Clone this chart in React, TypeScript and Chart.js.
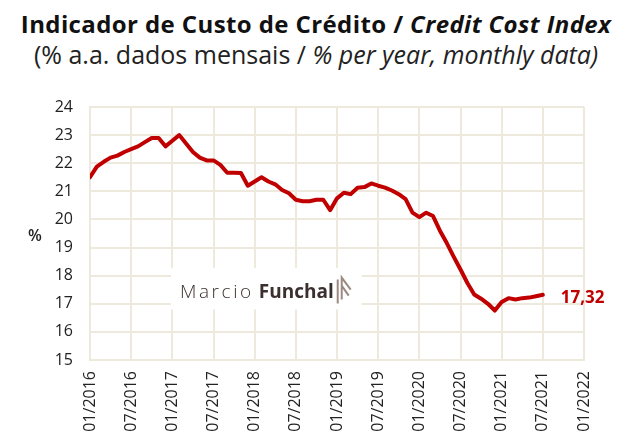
import React, { useEffect, useRef } from "react";
import { Chart, registerables } from "chart.js";

Chart.register(...registerables);

const xTickLabels = [
  "01/2016", "07/2016", "01/2017", "07/2017", "01/2018", "07/2018", "01/2019",
  "07/2019", "01/2020", "07/2020", "01/2021", "07/2021", "01/2022",
];
const yTicks = [15, 16, 17, 18, 19, 20, 21, 22, 23, 24];
// monthly values, 01/2016 .. 07/2021
const creditCost = [
  21.5, 21.88, 22.05, 22.2, 22.27, 22.4, 22.5, 22.6, 22.75, 22.9, 22.9, 22.6,
  22.8, 23.0, 22.7, 22.4, 22.2, 22.1, 22.1, 21.94, 21.66, 21.66, 21.65, 21.2,
  21.35, 21.5, 21.35, 21.25, 21.05, 20.93, 20.7, 20.65, 20.65, 20.7, 20.7, 20.33,
  20.75, 20.95, 20.9, 21.13, 21.15, 21.28, 21.2, 21.13, 21.03, 20.9, 20.72, 20.24,
  20.08, 20.24, 20.12, 19.6, 19.16, 18.68, 18.22, 17.74, 17.33, 17.18, 17.0, 16.76,
  17.06, 17.2, 17.15, 17.2, 17.22, 17.27, 17.32,
];
const lastLabel = "17,32";

const RED = "#c00000";
const GRID = "#ede9dd";
const FONT = "'Open Sans', sans-serif";

const overlayPlugin = {
  id: "overlay",
  beforeDatasetsDraw(chart: any) {
    const { ctx, scales } = chart;
    const x = scales.x;
    const y = scales.y;
    ctx.save();
    // watermark box
    const bx0 = x.getPixelForValue(11.8);
    const bx1 = x.getPixelForValue(39.6);
    const by0 = y.getPixelForValue(18.28);
    const by1 = y.getPixelForValue(16.8);
    ctx.fillStyle = "#ffffff";
    ctx.fillRect(bx0, by0, bx1 - bx0, by1 - by0);
    const base = y.getPixelForValue(17.22);
    ctx.fillStyle = "#3b302d";
    ctx.textBaseline = "alphabetic";
    ctx.textAlign = "left";
    ctx.font = `300 19px ${FONT}`;
    let tx = x.getPixelForValue(13.1);
    const letters = "Marcio".split("");
    for (const ch of letters) {
      ctx.fillText(ch, tx, base);
      tx += ctx.measureText(ch).width + 2.6;
    }
    ctx.font = `700 19px ${FONT}`;
    const fx = x.getPixelForValue(24.6);
    ctx.fillText("Funchal", fx, base);
    const fw = ctx.measureText("Funchal").width;
    // logo
    const lx = fx + fw + 4;
    ctx.strokeStyle = "#9c8b82";
    ctx.lineWidth = 2;
    ctx.beginPath();
    ctx.moveTo(lx, base - 18);
    ctx.lineTo(lx, base + 6);
    ctx.moveTo(lx + 4, base + 2);
    ctx.lineTo(lx + 4, base - 20);
    ctx.lineTo(lx + 13, base - 8);
    ctx.moveTo(lx + 4, base - 12);
    ctx.lineTo(lx + 11, base - 2);
    ctx.stroke();
    ctx.restore();
  },
  afterDatasetsDraw(chart: any) {
    const { ctx, scales, chartArea } = chart;
    const x = scales.x;
    const y = scales.y;
    ctx.save();
    const n = creditCost.length - 1;
    const px = x.getPixelForValue(n);
    const py = y.getPixelForValue(creditCost[n]);
    ctx.fillStyle = RED;
    ctx.font = `700 17px ${FONT}`;
    ctx.textAlign = "left";
    ctx.textBaseline = "middle";
    ctx.fillText(lastLabel, px + 18, py + 3);
    // "%" axis label
    ctx.fillStyle = "#222222";
    ctx.font = `600 16px ${FONT}`;
    ctx.textAlign = "center";
    ctx.fillText("%", 35, (chartArea.top + chartArea.bottom) / 2 + 3);
    ctx.restore();
  },
};

export default function App() {
  const ref = useRef<HTMLCanvasElement | null>(null);
  useEffect(() => {
    if (!ref.current) return;
    const chart = new Chart(ref.current, {
      type: "line",
      data: {
        datasets: [
          {
            data: creditCost.map((v, i) => ({ x: i, y: v })),
            borderColor: RED,
            borderWidth: 4,
            pointRadius: 0,
            tension: 0,
            borderJoinStyle: "round",
            borderCapStyle: "round",
          },
        ],
      },
      options: {
        animation: false,
        responsive: true,
        maintainAspectRatio: false,
        layout: { padding: { top: 27, right: 48, left: 0, bottom: 0 } },
        plugins: { legend: { display: false }, tooltip: { enabled: false } },
        scales: {
          x: {
            type: "linear",
            min: 0,
            max: (xTickLabels.length - 1) * 6,
            afterBuildTicks: (s: any) => {
              s.ticks = xTickLabels.map((_, i) => ({ value: i * 6 }));
            },
            afterFit: (s: any) => {
              s.height = 81;
            },
            grid: { color: GRID, lineWidth: 2, drawTicks: false },
            border: { color: GRID, width: 2 },
            ticks: {
              autoSkip: false,
              minRotation: 90,
              maxRotation: 90,
              padding: 11,
              color: "#222222",
              font: { family: FONT, size: 16 },
              callback: (v: any) => xTickLabels[Math.round(Number(v) / 6)] ?? "",
            },
          },
          y: {
            min: yTicks[0],
            max: yTicks[yTicks.length - 1],
            afterBuildTicks: (s: any) => {
              s.ticks = yTicks.map((v) => ({ value: v }));
            },
            afterFit: (s: any) => {
              s.width = 90;
            },
            grid: { color: GRID, lineWidth: 2, drawTicks: false },
            border: { color: GRID, width: 2 },
            ticks: {
              padding: 17,
              color: "#222222",
              font: { family: FONT, size: 16 },
            },
          },
        },
      },
      plugins: [overlayPlugin],
    } as any);
    return () => chart.destroy();
  }, []);

  return (
    <div
      style={{
        position: "fixed",
        left: 0,
        top: 0,
        width: 632,
        height: 441,
        background: "#ffffff",
        overflow: "hidden",
        fontFamily: FONT,
      }}
    >
      <div
        style={{
          position: "absolute",
          left: 0,
          top: 9,
          width: 632,
          textAlign: "center",
          fontSize: 24,
          fontWeight: 700,
          letterSpacing: 0.4,
          color: "#111111",
          lineHeight: "30px",
          whiteSpace: "nowrap",
        }}
      >
        Indicador de Custo de Crédito / <i>Credit Cost Index</i>
      </div>
      <div
        style={{
          position: "absolute",
          left: 0,
          top: 39,
          width: 632,
          textAlign: "center",
          fontSize: 25,
          fontWeight: 400,
          color: "#222222",
          lineHeight: "30px",
          whiteSpace: "nowrap",
        }}
      >
        (% a.a. dados mensais / <i>% per year, monthly data)</i>
      </div>
      <div style={{ position: "absolute", left: 0, top: 80, width: 632, height: 361 }}>
        <canvas ref={ref} />
      </div>
    </div>
  );
}
